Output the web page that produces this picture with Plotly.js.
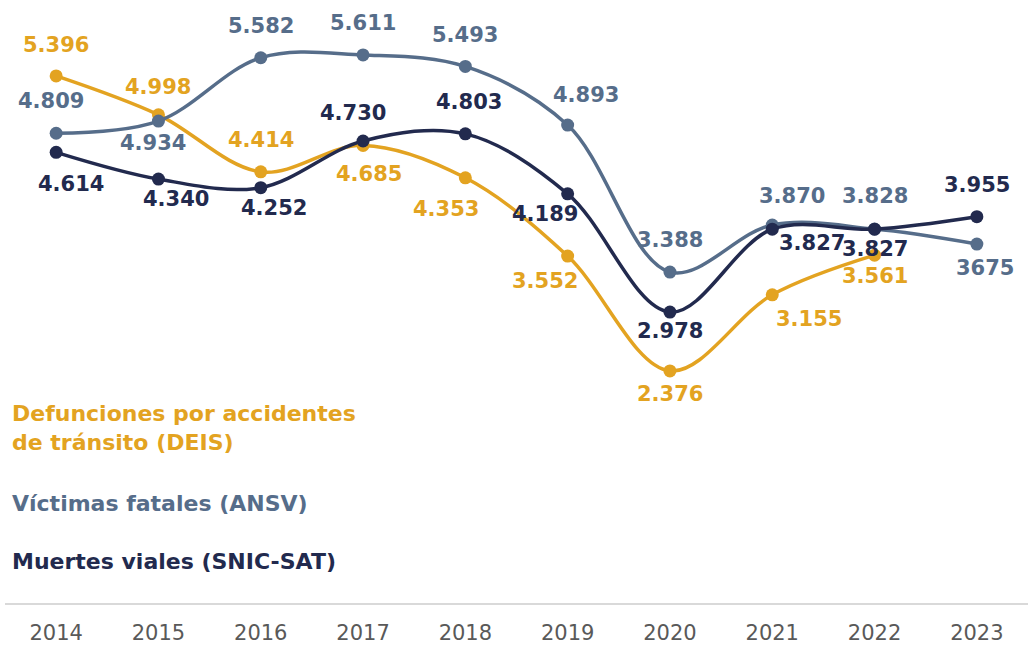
<!DOCTYPE html>
<html>
<head>
<meta charset="utf-8">
<script src="https://cdn.plot.ly/plotly-3.0.1.min.js"></script>
<style>html,body{margin:0;padding:0;background:#fff;}#chart{width:1028px;height:646px;}</style>
</head>
<body>
<div id="chart"></div>
<script>
const years = ["2014","2015","2016","2017","2018","2019","2020","2021","2022","2023"];
const deis = [5396, 4998, 4414, 4685, 4353, 3552, 2376, 3155, 3561, null];
const ansv = [4809, 4934, 5582, 5611, 5493, 4893, 3388, 3870, 3828, 3675];
const snic = [4614, 4340, 4252, 4730, 4803, 4189, 2978, 3827, 3827, 3955];
const seriesNames = ["Defunciones por accidentes<br>de tránsito (DEIS)", "Víctimas fatales (ANSV)", "Muertes viales (SNIC-SAT)"];
// the source prints the last ANSV value without a thousands separator
const ansvRawLabelIdx = [9];

// label offsets in px (xshift, yshift)
const deisOff = [[0,31],[0,28],[0,32],[6,-29],[-19,-31],[-23,-25],[0,-23],[37,-24],[0,-21],null];
const ansvOff = [[-5,32],[-5,-22],[0,32],[0,32],[0,31],[18,30],[0,32],[20,29],[0,33],[8,-24]];
const snicOff = [[15,-32],[18,-20],[13,-20],[-10,28],[4,32],[-23,-20],[0,-19],[40,-14],[0,-20],[0,32]];

const colors = ["#E3A321", "#566D8A", "#222A4E"];
const FONT = "DejaVu Sans, sans-serif";

function fmt(v, raw) {
  const s = String(v);
  if (raw || s.length <= 3) return s;
  return s.slice(0, s.length - 3) + "." + s.slice(s.length - 3);
}

const xs = years.map((_, i) => i);
function trace(vals, color) {
  return {
    x: xs, y: vals, type: "scatter", mode: "lines+markers",
    line: {color: color, width: 3.5, shape: "spline", smoothing: 1},
    marker: {color: color, size: 13},
    hoverinfo: "skip", showlegend: false, connectgaps: false
  };
}

const annotations = [];
function addLabels(vals, offs, color, rawIdx) {
  vals.forEach((v, i) => {
    if (v === null) return;
    annotations.push({
      x: i, y: v, xref: "x", yref: "y",
      text: "<b>" + fmt(v, rawIdx && rawIdx.indexOf(i) >= 0) + "</b>",
      showarrow: false, xshift: offs[i][0], yshift: offs[i][1],
      font: {family: FONT, size: 21, color: color}
    });
  });
}
addLabels(deis, deisOff, colors[0]);
addLabels(ansv, ansvOff, colors[1], ansvRawLabelIdx);
addLabels(snic, snicOff, colors[2]);

const legendY = [0.2943, 0.1686, 0.0708];
seriesNames.forEach((n, k) => {
  annotations.push({
    xref: "paper", yref: "paper", x: 0.005, y: legendY[k],
    xanchor: "left", yanchor: "middle", align: "left",
    text: "<b>" + n + "</b>", showarrow: false,
    font: {family: FONT, size: 22, color: colors[k]}
  });
});

const layout = {
  width: 1028, height: 646,
  margin: {l: 5, r: 0, t: 10, b: 43},
  paper_bgcolor: "#fff", plot_bgcolor: "#fff",
  showlegend: false,
  xaxis: {
    range: [-0.5, 9.5], tickvals: xs, ticktext: years,
    showline: true, linecolor: "#D9D9D9", linewidth: 2,
    showgrid: false, zeroline: false, ticks: "", ticklabelstandoff: 10,
    tickfont: {family: FONT, size: 21, color: "#595959"}, fixedrange: true
  },
  yaxis: {
    range: [0, 6071], visible: false, showgrid: false, zeroline: false, fixedrange: true
  },
  annotations: annotations
};

Plotly.newPlot("chart", [trace(deis, colors[0]), trace(ansv, colors[1]), trace(snic, colors[2])], layout, {displayModeBar: false, staticPlot: true});
</script>
</body>
</html>
